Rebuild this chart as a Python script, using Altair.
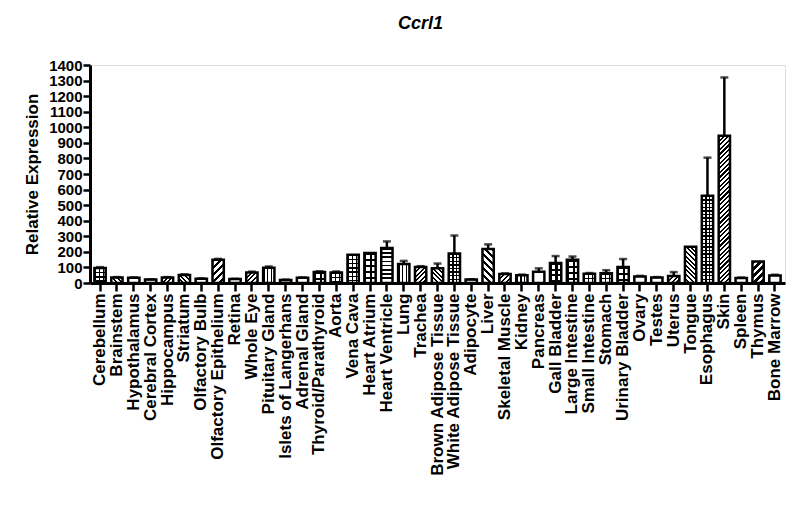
import altair as alt
import pandas as pd

tissues = ["Cerebellum", "Brainstem", "Hypothalamus", "Cerebral Cortex", "Hippocampus",
           "Striatum", "Olfactory Bulb", "Olfactory Epithelium", "Retina", "Whole Eye",
           "Pituitary Gland", "Islets of Langerhans", "Adrenal Gland", "Thyroid/Parathyroid",
           "Aorta", "Vena Cava", "Heart Atrium", "Heart Ventricle", "Lung", "Trachea",
           "Brown Adipose Tissue", "White Adipose Tissue", "Adipocyte", "Liver",
           "Skeletal Muscle", "Kidney", "Pancreas", "Gall Bladder", "Large Intestine",
           "Small Intestine", "Stomach", "Urinary Bladder", "Ovary", "Testes", "Uterus",
           "Tongue", "Esophagus", "Skin", "Spleen", "Thymus", "Bone Marrow"]

means = [97, 35, 33, 22, 35, 52, 27, 150, 25, 68,
         98, 20, 33, 70, 68, 182, 193, 225, 122, 103,
         95, 190, 22, 218, 58, 50, 72, 128, 150, 60,
         62, 102, 42, 35, 45, 232, 560, 945, 32, 138, 48]

sems = [5, 3, 3, 2, 3, 4, 3, 5, 2, 5,
        8, 2, 3, 5, 6, 0, 0, 42, 20, 5,
        30, 115, 2, 30, 4, 4, 22, 45, 20, 4,
        20, 52, 4, 3, 25, 0, 245, 375, 3, 0, 5]

y_ticks = list(range(0, 1401, 100))

# fill style of each bar (black-and-white patterns of the original)
patterns = ["check", "diagL", "white", "white", "diagR", "diagL", "white", "diagRw", "white", "diagR",
            "vert", "white", "white", "checkB", "check", "check", "checkB", "horiz", "vert", "diagR",
            "diagL", "grid", "white", "diagLw", "diagR", "vert", "white", "gridw", "checkB", "check",
            "check", "checkB", "white", "white", "diagR", "diagL", "grid", "diagR", "white", "diagRw",
            "white"]

df = pd.DataFrame({"tissue": tissues, "mean": means, "sem": sems})
df["upper"] = df["mean"] + df["sem"]

FONT = "Liberation Sans"
W, H = 695, 218
P_IN, P_OUT = 0.33, 0.26
step = W / (len(tissues) - P_IN + 2 * P_OUT)
bw = step * (1 - P_IN)

BLACK = "#000000"
CLEAR = "rgba(255,255,255,0)"

# (period px, black fraction) of the two-layer grid styles
GRID_STYLES = {"grid": (3.6, 0.4), "gridw": (5.5, 0.4), "check": (4.2, 0.32), "checkB": (6.0, 0.33)}


def stripe_stops(dt, frac, tmax, bg):
    stops = []
    k = 0
    while k * dt <= tmax + dt:
        a = k * dt
        b = a + frac * dt
        c = a + dt
        for off, col in ((a, BLACK), (b, BLACK), (b, bg), (c, bg)):
            stops.append(alt.GradientStop(offset=min(max(off, 0), 1), color=col))
        if c >= 1:
            break
        k += 1
    return stops


def make_fill(pat, value, bg="white"):
    h = max(value * H / 1400.0, 1.0)
    w = bw
    if pat in ("diagR", "diagL", "diagRw", "diagLw"):
        p = 7.0 if pat.endswith("w") else 4.6
        frac = 0.5 if pat.endswith("w") else 0.45
        dt = w * p / (w * w + h * h)
        tmax = w * (w + h) / (w * w + h * h)
        stops = stripe_stops(dt, frac, tmax, bg)
        if pat.startswith("diagR"):
            return alt.LinearGradient(gradient="linear", stops=stops, x1=0, y1=0, x2=1, y2=h / w)
        return alt.LinearGradient(gradient="linear", stops=stops, x1=1, y1=0, x2=0, y2=h / w)
    if pat == "vert":
        return alt.LinearGradient(gradient="linear", stops=stripe_stops(3.8 / w, 0.4, 1, bg),
                                  x1=0, y1=0, x2=1, y2=0)
    if pat == "horiz":
        return alt.LinearGradient(gradient="linear", stops=stripe_stops(4.2 / h, 0.4, 1, bg),
                                  x1=0, y1=0, x2=0, y2=1)
    if pat in GRID_STYLES:
        p, f = GRID_STYLES[pat]
        return alt.LinearGradient(gradient="linear", stops=stripe_stops(p / h, f, 1, bg),
                                  x1=0, y1=0, x2=0, y2=1)
    return "white"


x_enc = alt.X("tissue:N",
              scale=alt.Scale(domain=tissues, paddingInner=P_IN, paddingOuter=P_OUT),
              axis=alt.Axis(title=None, labelAngle=-90, labelAlign="right",
                            labelBaseline="middle", labelFont=FONT, labelFontSize=17,
                            labelFontWeight="bold", labelColor="black", labelPadding=2,
                            labelLimit=400,
                            tickSize=8, tickWidth=2.5, tickColor="black",
                            domainColor="black", domainWidth=3, labelOverlap=False))

y_scale = alt.Scale(domain=[0, 1400], nice=False, zero=True)
y_axis = alt.Axis(title="Relative Expression", values=y_ticks, format="d",
                  titleFont=FONT, titleFontSize=17, titleFontWeight="bold",
                  titleColor="black", titlePadding=7,
                  labelFont=FONT, labelFontSize=15, labelFontWeight="bold",
                  labelColor="black", labelPadding=1, tickSize=7, tickWidth=2.5,
                  tickColor="black", domainColor="black", domainWidth=3,
                  grid=False, labelOverlap=False, labelFlush=False)


def y_mean():
    return alt.Y("mean:Q", scale=y_scale, axis=y_axis)


layers = []
for t, m, pat in zip(tissues, means, patterns):
    base = alt.Chart(df).transform_filter(alt.datum.tissue == t)
    layers.append(base.mark_bar(fill=make_fill(pat, m), strokeWidth=0).encode(x=x_enc, y=y_mean()))
    if pat in GRID_STYLES:
        p, f = GRID_STYLES[pat]
        vgrad = alt.LinearGradient(gradient="linear",
                                   stops=stripe_stops(p / bw, f, 1, CLEAR),
                                   x1=0, y1=0, x2=1, y2=0)
        layers.append(base.mark_bar(fill=vgrad, strokeWidth=0).encode(x=x_enc, y=y_mean()))

outline = alt.Chart(df).mark_bar(fill="transparent", stroke="black", strokeWidth=2.5).encode(
    x=x_enc, y=y_mean())

err_df = df[df["sem"] > 0]
rules = alt.Chart(err_df).mark_rule(color="black", strokeWidth=2.5).encode(
    x=x_enc, y=y_mean(), y2="upper:Q")
caps = alt.Chart(err_df).mark_tick(color="black", thickness=2.5, size=8).encode(
    x=x_enc, y=alt.Y("upper:Q", scale=y_scale, axis=y_axis))

chart = alt.layer(*layers, outline, rules, caps).properties(
    width=W, height=H,
    title=alt.Title("Ccrl1", font=FONT, fontSize=18, fontStyle="italic",
                    fontWeight="bold", color="black", offset=25, dx=-17),
    padding={"left": 82, "top": 57, "right": 5, "bottom": 200},
    autosize="none",
).configure_view(stroke=None).configure(background="white")

chart.save("out.html", embed_options={"renderer": "svg", "actions": False})
